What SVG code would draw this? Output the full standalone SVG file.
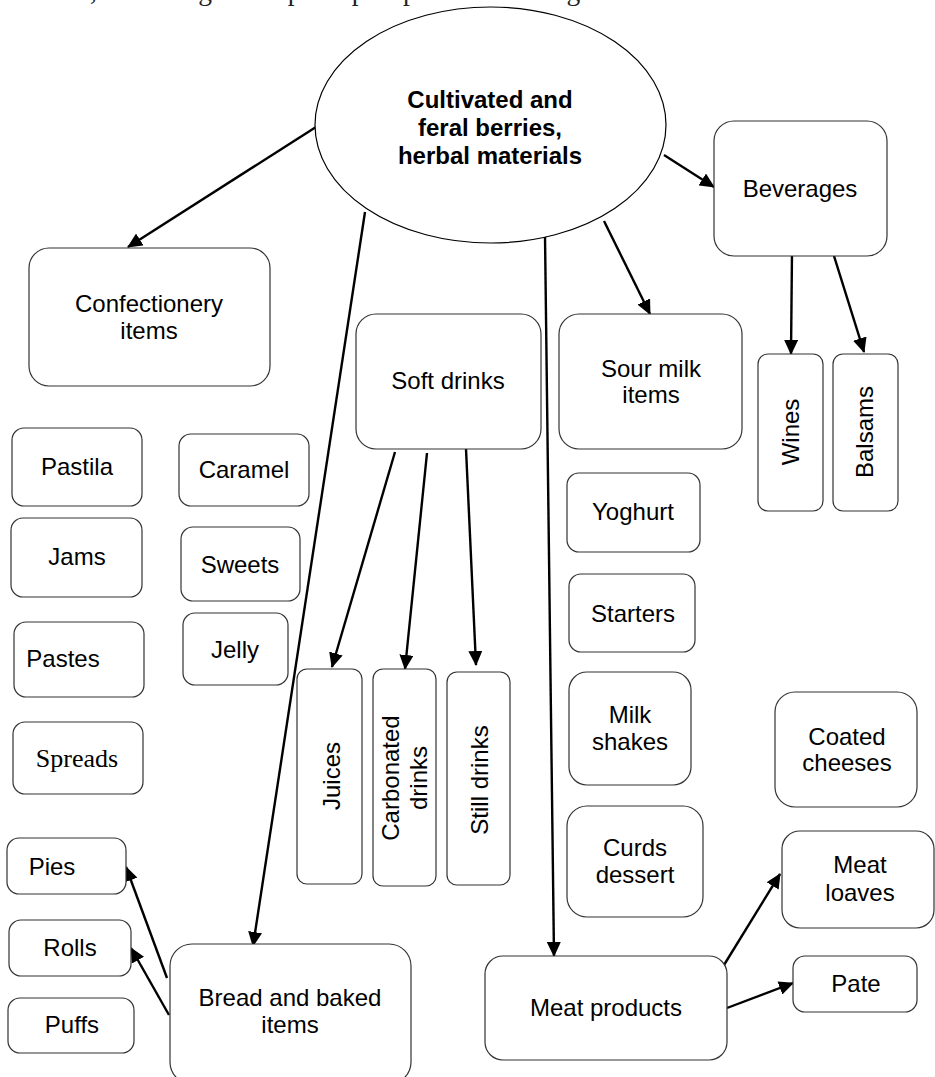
<svg xmlns="http://www.w3.org/2000/svg" width="935" height="1077" viewBox="0 0 935 1077">
<defs>
<marker id="ah" markerUnits="userSpaceOnUse" markerWidth="15" markerHeight="14" refX="14" refY="7" orient="auto">
<path d="M0,0 L15,7 L0,14 z" fill="#000"/>
</marker>
<style>
.box{fill:#fff;stroke:#333;stroke-width:1.2}
.t{font-family:"Liberation Sans",Arial,sans-serif;font-size:24px;fill:#000;text-anchor:middle}
.s{font-family:"Liberation Serif","Times New Roman",serif;font-size:26px;fill:#000;text-anchor:middle}
.c{stroke:#000;stroke-width:2.4;fill:none;marker-end:url(#ah)}
</style>
</defs>
<rect width="935" height="1077" fill="#fff"/>
<text x="-59" y="0" font-family="'Liberation Serif','Times New Roman',serif" font-size="27.5" fill="#222">raw materials, according to the principles presented in Figure 1.</text>

<g id="connectors">
<line class="c" x1="316" y1="127" x2="128" y2="247"/>
<line class="c" x1="365" y1="212" x2="253" y2="946"/>
<line class="c" x1="545" y1="236" x2="554" y2="956"/>
<line class="c" x1="604" y1="221" x2="650" y2="314"/>
<line class="c" x1="664" y1="155" x2="714" y2="187"/>
<line class="c" x1="395" y1="452" x2="332" y2="667"/>
<line class="c" x1="427" y1="453" x2="405" y2="669"/>
<line class="c" x1="466" y1="449" x2="476" y2="665"/>
<line class="c" x1="792" y1="252" x2="791" y2="354"/>
<line class="c" x1="834" y1="256" x2="864" y2="352"/>
<line class="c" x1="167" y1="978" x2="126" y2="867"/>
<line class="c" x1="169" y1="1015" x2="131" y2="948"/>
<line class="c" x1="724" y1="965" x2="780" y2="874"/>
<line class="c" x1="727" y1="1008" x2="793" y2="983"/>
</g>

<g id="root">
<ellipse cx="490.5" cy="125" rx="175.5" ry="118" fill="#fff" stroke="#000" stroke-width="1.2"/>
<text class="t" font-weight="bold" x="490" y="108">Cultivated and</text>
<text class="t" font-weight="bold" x="490" y="136">feral berries,</text>
<text class="t" font-weight="bold" x="490" y="164">herbal materials</text>
</g>

<g id="confectionery">
<rect class="box" x="29" y="248" width="241" height="138" rx="20"/>
<text class="t" x="149" y="312">Confectionery</text>
<text class="t" x="149" y="339">items</text>
</g>
<g id="pastila"><rect class="box" x="12" y="428" width="130" height="78" rx="12"/><text class="t" x="77" y="475">Pastila</text></g>
<g id="caramel"><rect class="box" x="179" y="434" width="130" height="72" rx="12"/><text class="t" x="244" y="478">Caramel</text></g>
<g id="jams"><rect class="box" x="11" y="518" width="131" height="79" rx="12"/><text class="t" x="77" y="565">Jams</text></g>
<g id="sweets"><rect class="box" x="181" y="527" width="119" height="74" rx="12"/><text class="t" x="240" y="573">Sweets</text></g>
<g id="pastes"><rect class="box" x="14" y="622" width="130" height="75" rx="12"/><text class="t" x="63" y="667">Pastes</text></g>
<g id="jelly"><rect class="box" x="183" y="613" width="105" height="72" rx="12"/><text class="t" x="235" y="658">Jelly</text></g>
<g id="spreads"><rect class="box" x="13" y="722" width="130" height="72" rx="12"/><text class="s" x="77" y="767">Spreads</text></g>

<g id="soft-drinks"><rect class="box" x="356" y="314" width="185" height="135" rx="20"/><text class="t" x="448" y="389">Soft drinks</text></g>
<g id="juices"><rect class="box" x="297" y="669" width="65" height="215" rx="10"/><text class="t" transform="translate(340,776) rotate(-90)">Juices</text></g>
<g id="carbonated"><rect class="box" x="373" y="669" width="63" height="217" rx="10"/><text class="t" transform="translate(399,778) rotate(-90)"><tspan x="0" y="0">Carbonated</tspan><tspan x="0" y="28">drinks</tspan></text></g>
<g id="still"><rect class="box" x="447" y="672" width="63" height="213" rx="10"/><text class="t" transform="translate(488,780) rotate(-90)">Still drinks</text></g>

<g id="sour-milk"><rect class="box" x="559" y="314" width="183" height="135" rx="20"/><text class="t" x="651" y="377">Sour milk</text><text class="t" x="651" y="403">items</text></g>
<g id="yoghurt"><rect class="box" x="567" y="473" width="133" height="79" rx="12"/><text class="t" x="633" y="520">Yoghurt</text></g>
<g id="starters"><rect class="box" x="569" y="574" width="126" height="78" rx="12"/><text class="t" x="633" y="622">Starters</text></g>
<g id="milk-shakes"><rect class="box" x="569" y="672" width="122" height="113" rx="18"/><text class="t" x="630" y="723">Milk</text><text class="t" x="630" y="750">shakes</text></g>
<g id="curds"><rect class="box" x="567" y="806" width="136" height="111" rx="20"/><text class="t" x="635" y="856">Curds</text><text class="t" x="635" y="883">dessert</text></g>

<g id="beverages"><rect class="box" x="714" y="121" width="173" height="135" rx="20"/><text class="t" x="800" y="197">Beverages</text></g>
<g id="wines"><rect class="box" x="758" y="354" width="65" height="157" rx="10"/><text class="t" transform="translate(799,432) rotate(-90)">Wines</text></g>
<g id="balsams"><rect class="box" x="833" y="354" width="65" height="157" rx="10"/><text class="t" transform="translate(873,432) rotate(-90)">Balsams</text></g>

<g id="coated"><rect class="box" x="775" y="692" width="142" height="115" rx="20"/><text class="t" x="847" y="745">Coated</text><text class="t" x="847" y="771">cheeses</text></g>
<g id="meat-loaves"><rect class="box" x="782" y="831" width="152" height="97" rx="18"/><text class="t" x="860" y="873">Meat</text><text class="t" x="860" y="901">loaves</text></g>
<g id="pate"><rect class="box" x="793" y="956" width="124" height="56" rx="12"/><text class="t" x="856" y="992">Pate</text></g>
<g id="meat-products"><rect class="box" x="485" y="956" width="242" height="104" rx="18"/><text class="t" x="606" y="1016">Meat products</text></g>

<g id="bread"><rect class="box" x="170" y="944" width="241" height="140" rx="22"/><text class="t" x="290" y="1006">Bread and baked</text><text class="t" x="290" y="1033">items</text></g>
<g id="pies"><rect class="box" x="7" y="838" width="119" height="56" rx="12"/><text class="t" x="52" y="875">Pies</text></g>
<g id="rolls"><rect class="box" x="9" y="920" width="122" height="56" rx="12"/><text class="t" x="70" y="956">Rolls</text></g>
<g id="puffs"><rect class="box" x="8" y="998" width="126" height="55" rx="12"/><text class="t" x="72" y="1033">Puffs</text></g>
</svg>
